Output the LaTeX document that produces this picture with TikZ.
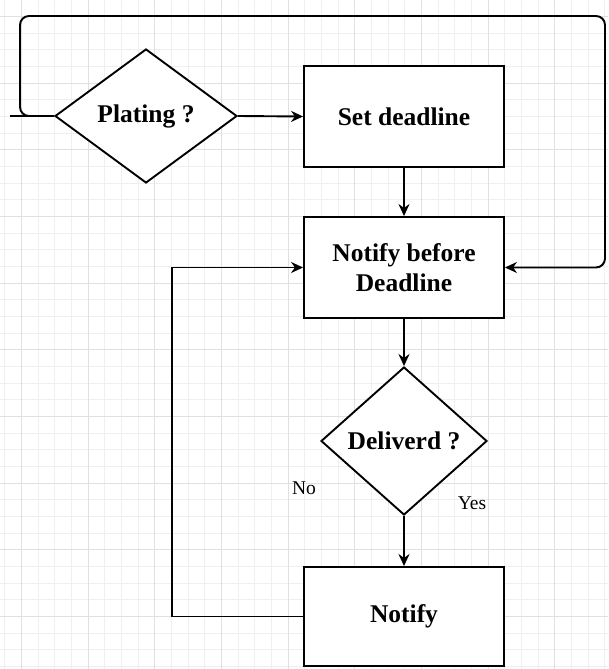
\documentclass[tikz,border=0pt]{standalone}
\usepackage{fontspec}
\setmainfont{Liberation Serif}
\usetikzlibrary{arrows.meta,shapes.geometric}
\definecolor{gridmin}{HTML}{EFEFEF}
\definecolor{gridmaj}{HTML}{E0E0E0}
\begin{document}
\begin{tikzpicture}[x=1pt,y=-1pt,
  conn/.style={line width=1.9pt,draw=black},
  arr/.style={conn,-{Stealth[length=12pt,width=11pt]}},
  boxnode/.style={draw,line width=1.9pt,fill=white,minimum width=200pt,minimum height=101pt,inner sep=0pt,align=center,font=\fontsize{25.5}{30}\selectfont\bfseries},
  decnode/.style={draw,diamond,line width=1.9pt,fill=white,inner sep=0pt,font=\fontsize{25.5}{30}\selectfont\bfseries},
  lbl/.style={inner sep=0pt,font=\fontsize{19.5}{22}\selectfont},
  gmin/.style={draw=gridmin,line width=0.8pt},
  gmaj/.style={draw=gridmaj,line width=0.9pt}]
\fill[white] (0,0) rectangle (608,669);
\useasboundingbox (0,0) rectangle (608,669);
% grid
\foreach \k in {-1,...,36} \draw[gmin] ({21.3+16.667*\k},0) -- ++(0,669);
\foreach \k in {-1,...,40} \draw[gmin] (0,{16.3+16.667*\k}) -- ++(608,0);
\foreach \k in {0,...,9} \draw[gmaj] ({21.3+66.667*\k},0) -- ++(0,669);
\foreach \k in {0,...,9} \draw[gmaj] (0,{16.3+66.667*\k}) -- ++(608,0);
% nodes
\node[decnode,minimum width=182pt,minimum height=134pt] (plating) at (146,116) {Plating ?};
\node[boxnode] (setd) at (404,116.5) {Set deadline};
\node[boxnode] (nbd) at (404,267.5) {Notify before\\Deadline};
\node[decnode,minimum width=166pt,minimum height=148pt] (deliv) at (404,441) {Deliverd ?};
\node[boxnode,minimum height=99pt] (notify) at (404,616.5) {Notify};
\node[lbl] (no) at (304,488) {No};
\node[lbl] (yes) at (472,503) {Yes};
% helper coordinates
\coordinate (stub) at (10,116);
\coordinate (lpA) at (20,16);
\coordinate (lpB) at (605,16);
\coordinate (noc) at (172,440);
% connectors
\draw[conn] (plating.west) -- (stub);
\draw[arr,rounded corners=9pt] (plating.west) -| (lpA) -- (lpB) |- (nbd.east);
\draw[arr] (plating.east) -- (setd.west);
\draw[arr] (setd.south) -- (nbd.north);
\draw[arr] (nbd.south) -- (deliv.north);
\draw[arr] (deliv.south) -- (notify.north);
\draw[arr] (notify.west) -| (noc) |- (nbd.west);
\end{tikzpicture}
\end{document}
